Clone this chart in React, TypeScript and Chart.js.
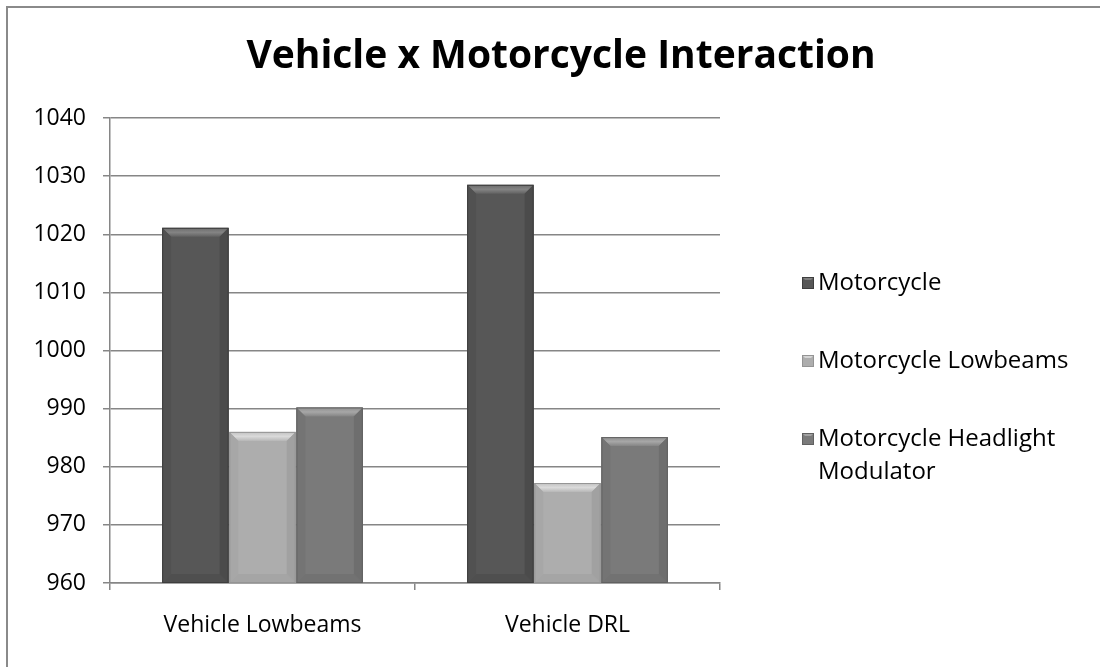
import React, { useEffect, useRef } from "react";
import { Chart, registerables } from "chart.js";

Chart.register(...registerables);

const titleText = "Vehicle x Motorcycle Interaction";
const categories = ["Vehicle Lowbeams", "Vehicle DRL"];
const seriesNames = ["Motorcycle", "Motorcycle Lowbeams", "Motorcycle Headlight Modulator"];
const legendLines = [["Motorcycle"], ["Motorcycle Lowbeams"], ["Motorcycle Headlight", "Modulator"]];
const motorcycle = [1021.1, 1028.5];
const motorcycleLowbeams = [986.0, 977.2];
const motorcycleModulator = [990.2, 985.1];
const seriesColors = ["#575757", "#adadad", "#7a7a7a"];
const yMin = 960;
const yMax = 1040;
const yStep = 10;

const FONT = "'Open Sans', 'Noto Sans', sans-serif";

function shade(hex: string, amt: number) {
  const n = parseInt(hex.slice(1), 16);
  let r = (n >> 16) & 255, g = (n >> 8) & 255, b = n & 255;
  r = Math.max(0, Math.min(255, r + amt));
  g = Math.max(0, Math.min(255, g + amt));
  b = Math.max(0, Math.min(255, b + amt));
  return `rgb(${r},${g},${b})`;
}

const framePlugin = {
  id: "frame",
  beforeDraw(chart: any) {
    const { ctx, width, height } = chart;
    ctx.save();
    ctx.fillStyle = "#ffffff";
    ctx.fillRect(0, 0, width, height);
    ctx.strokeStyle = "#8a8a8a";
    ctx.lineWidth = 2;
    ctx.beginPath();
    ctx.moveTo(7, height);
    ctx.lineTo(7, 7);
    ctx.lineTo(width, 7);
    ctx.stroke();
    ctx.restore();
  },
};

const titlePlugin = {
  id: "centerTitle",
  afterDraw(chart: any) {
    const { ctx } = chart;
    ctx.save();
    ctx.font = `bold 39px ${FONT}`;
    ctx.fillStyle = "#000000";
    ctx.textAlign = "center";
    ctx.textBaseline = "middle";
    ctx.fillText(titleText, 561, 57);
    ctx.restore();
  },
};

const bevelPlugin = {
  id: "bevel",
  afterDatasetsDraw(chart: any) {
    const { ctx, chartArea } = chart;
    chart.data.datasets.forEach((ds: any, di: number) => {
      const meta = chart.getDatasetMeta(di);
      const base = seriesColors[di];
      meta.data.forEach((bar: any) => {
        const width = bar.width;
        const l = bar.x - width / 2;
        const r = bar.x + width / 2;
        const t = Math.max(bar.y, chartArea.top);
        const bt = Math.min(bar.base, chartArea.bottom);
        const bv = 9;
        ctx.save();
        ctx.beginPath();
        ctx.rect(chartArea.left, chartArea.top, chartArea.right - chartArea.left, chartArea.bottom - chartArea.top);
        ctx.clip();
        ctx.fillStyle = base;
        ctx.fillRect(l, t, width, bt - t);
        const gTop = ctx.createLinearGradient(0, t, 0, t + bv);
        gTop.addColorStop(0, shade(base, 20));
        gTop.addColorStop(0.5, shade(base, 45));
        gTop.addColorStop(1, shade(base, 10));
        ctx.fillStyle = gTop;
        ctx.beginPath();
        ctx.moveTo(l, t);
        ctx.lineTo(r, t);
        ctx.lineTo(r - bv, t + bv);
        ctx.lineTo(l + bv, t + bv);
        ctx.closePath();
        ctx.fill();
        ctx.fillStyle = shade(base, -8);
        ctx.beginPath();
        ctx.moveTo(l, bt);
        ctx.lineTo(r, bt);
        ctx.lineTo(r - bv, bt - bv);
        ctx.lineTo(l + bv, bt - bv);
        ctx.closePath();
        ctx.fill();
        ctx.fillStyle = shade(base, -6);
        ctx.beginPath();
        ctx.moveTo(l, t);
        ctx.lineTo(l + bv, t + bv);
        ctx.lineTo(l + bv, bt - bv);
        ctx.lineTo(l, bt);
        ctx.closePath();
        ctx.fill();
        ctx.fillStyle = shade(base, -12);
        ctx.beginPath();
        ctx.moveTo(r, t);
        ctx.lineTo(r - bv, t + bv);
        ctx.lineTo(r - bv, bt - bv);
        ctx.lineTo(r, bt);
        ctx.closePath();
        ctx.fill();
        ctx.strokeStyle = shade(base, -25);
        ctx.lineWidth = 1;
        ctx.strokeRect(l + 0.5, t + 0.5, width - 1, bt - t - 1);
        ctx.restore();
      });
    });
  },
};

const legendPlugin = {
  id: "customLegend",
  afterDraw(chart: any) {
    const { ctx } = chart;
    const boxX = 802;
    const textX = 818;
    const startY = 283;
    const gap = 78;
    const lineH = 33;
    ctx.save();
    ctx.font = `24px ${FONT}`;
    ctx.textBaseline = "middle";
    ctx.textAlign = "left";
    chart.data.datasets.forEach((ds: any, i: number) => {
      const cy = startY + i * gap;
      const c = seriesColors[i];
      ctx.fillStyle = c;
      ctx.fillRect(boxX, cy - 6, 12, 12);
      ctx.fillStyle = shade(c, 40);
      ctx.beginPath();
      ctx.moveTo(boxX, cy - 6);
      ctx.lineTo(boxX + 12, cy - 6);
      ctx.lineTo(boxX + 9, cy - 3);
      ctx.lineTo(boxX + 3, cy - 3);
      ctx.closePath();
      ctx.fill();
      ctx.strokeStyle = shade(c, -25);
      ctx.lineWidth = 1;
      ctx.strokeRect(boxX + 0.5, cy - 5.5, 11, 11);
      ctx.fillStyle = "#000000";
      const lines = legendLines[i] || [ds.label];
      lines.forEach((ln: string, k: number) => {
        ctx.fillText(ln, textX, cy + k * lineH);
      });
    });
    ctx.restore();
  },
};

export default function App() {
  const ref = useRef<HTMLCanvasElement | null>(null);
  useEffect(() => {
    if (!ref.current) return;
    const chart = new Chart(ref.current, {
      type: "bar",
      data: {
        labels: categories,
        datasets: [
          { label: seriesNames[0], data: motorcycle, backgroundColor: "rgba(0,0,0,0)" },
          { label: seriesNames[1], data: motorcycleLowbeams, backgroundColor: "rgba(0,0,0,0)" },
          { label: seriesNames[2], data: motorcycleModulator, backgroundColor: "rgba(0,0,0,0)" },
        ],
      },
      options: {
        animation: false,
        responsive: false,
        maintainAspectRatio: false,
        devicePixelRatio: 1,
        layout: { padding: { left: 0, right: 380, top: 118, bottom: 0 } },
        datasets: { bar: { barPercentage: 0.99, categoryPercentage: 0.66 } },
        plugins: {
          legend: { display: false },
          tooltip: { enabled: false },
          title: { display: false },
        },
        scales: {
          x: {
            offset: true,
            grid: {
              offset: true,
              drawOnChartArea: false,
              drawTicks: true,
              tickLength: 7,
              color: "#868686",
              lineWidth: 1.5,
            },
            border: { display: true, color: "#868686", width: 1.5 },
            ticks: { color: "#000000", font: { family: FONT, size: 23 }, padding: 22 },
            afterFit(scale: any) {
              scale.height = 84;
            },
          },
          y: {
            min: yMin,
            max: yMax,
            ticks: {
              stepSize: yStep,
              color: "#000000",
              font: { family: FONT, size: 23 },
              padding: 17,
              callback: (v: any) => String(v),
            },
            grid: { color: "#868686", lineWidth: 1.5, tickLength: 7, drawTicks: true },
            border: { display: true, color: "#868686", width: 1.5 },
            afterFit(scale: any) {
              scale.width = 110;
            },
          },
        },
      },
      plugins: [framePlugin, bevelPlugin, legendPlugin, titlePlugin],
    });
    return () => chart.destroy();
  }, []);
  return (
    <div style={{ position: "fixed", left: 0, top: 0, width: 1100, height: 667, background: "#fff" }}>
      <canvas ref={ref} width={1100} height={667} style={{ width: 1100, height: 667, display: "block" }} />
    </div>
  );
}
